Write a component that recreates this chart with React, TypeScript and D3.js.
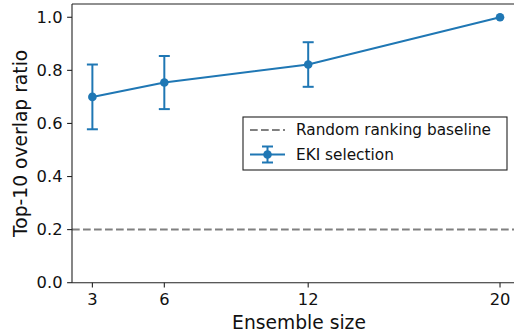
import React from "react";
import * as d3 from "d3";

const ensembleSizes = [3, 6, 12, 20];
const overlapMean = [0.70, 0.754, 0.822, 1.0];
const overlapErr = [0.122, 0.1, 0.084, 0.0];
const baselineValue = 0.2;
const xTicks = [3, 6, 12, 20];
const yTicks = [0, 0.2, 0.4, 0.6, 0.8, 1.0];

const W = 514;
const H = 332;
const left = 72;
const top = 4;
const bottom = 282.7;
const color = "#1f77b4";
const font = "'DejaVu Sans', sans-serif";

export default function App() {
  const x = d3.scaleLinear().domain([2.15, 20.85]).range([left, left + 448.4]);
  const y = d3.scaleLinear().domain([0, 1.05]).range([bottom, top]);
  const line = d3
    .line<number>()
    .x((_, i) => x(ensembleSizes[i]))
    .y((d) => y(d));
  const cap = 5.5;
  const lx = 243;
  const ly = 117;
  return (
    <svg
      width={W}
      height={H}
      style={{ position: "absolute", left: 0, top: 0, background: "#fff" }}
      fontFamily={font}
    >
      <rect x={0} y={0} width={W} height={H} fill="#fff" />
      {/* baseline */}
      <line
        x1={left}
        x2={W}
        y1={y(baselineValue)}
        y2={y(baselineValue)}
        stroke="#808080"
        strokeWidth={2}
        strokeDasharray="7.7,3.3"
      />
      {/* error bars */}
      {ensembleSizes.map((s, i) => {
        const cx = x(s);
        const y1 = y(overlapMean[i] + overlapErr[i]);
        const y2 = y(overlapMean[i] - overlapErr[i]);
        if (overlapErr[i] === 0) return null;
        return (
          <g key={"e" + i} stroke={color} strokeWidth={2}>
            <line x1={cx} x2={cx} y1={y1} y2={y2} />
            <line x1={cx - cap} x2={cx + cap} y1={y1} y2={y1} />
            <line x1={cx - cap} x2={cx + cap} y1={y2} y2={y2} />
          </g>
        );
      })}
      <path d={line(overlapMean) || ""} fill="none" stroke={color} strokeWidth={2} />
      {ensembleSizes.map((s, i) => (
        <circle key={"c" + i} cx={x(s)} cy={y(overlapMean[i])} r={4.3} fill={color} />
      ))}
      {/* spines */}
      <line x1={left} x2={W} y1={top} y2={top} stroke="#222" strokeWidth={1.1} />
      <line x1={left} x2={W} y1={bottom} y2={bottom} stroke="#222" strokeWidth={1.1} />
      <line x1={left} x2={left} y1={top} y2={bottom} stroke="#222" strokeWidth={1.1} />
      {/* y ticks */}
      {yTicks.map((t) => (
        <g key={"y" + t}>
          <line x1={left - 4.9} x2={left} y1={y(t)} y2={y(t)} stroke="#222" strokeWidth={1.1} />
          <text
            x={left - 9.5}
            y={y(t)}
            textAnchor="end"
            dominantBaseline="central"
            fontSize={16.3}
            fill="#111"
          >
            {t.toFixed(1)}
          </text>
        </g>
      ))}
      {/* x ticks */}
      {xTicks.map((t) => (
        <g key={"x" + t}>
          <line x1={x(t)} x2={x(t)} y1={bottom} y2={bottom + 4.9} stroke="#222" strokeWidth={1.1} />
          <text x={x(t)} y={305} textAnchor="middle" fontSize={16.3} fill="#111">
            {t}
          </text>
        </g>
      ))}
      <text x={(left + W + 6) / 2 + 3} y={328.5} textAnchor="middle" fontSize={18.7} fill="#111">
        Ensemble size
      </text>
      <text
        transform={`translate(20,${(top + bottom) / 2}) rotate(-90)`}
        textAnchor="middle"
        dominantBaseline="central"
        fontSize={18.7}
        fill="#111"
      >
        Top-10 overlap ratio
      </text>
      {/* legend */}
      <rect x={lx} y={ly} width={264} height={53} fill="#fff" stroke="#222" strokeWidth={1.1} />
      <line
        x1={lx + 7}
        x2={lx + 42}
        y1={ly + 13}
        y2={ly + 13}
        stroke="#808080"
        strokeWidth={2}
        strokeDasharray="7.7,3.3"
      />
      <text x={lx + 53} y={ly + 13} dominantBaseline="central" fontSize={15.3} fill="#111">
        Random ranking baseline
      </text>
      <g stroke={color} strokeWidth={2}>
        <line x1={lx + 7} x2={lx + 42} y1={ly + 37.5} y2={ly + 37.5} />
        <line x1={lx + 24.5} x2={lx + 24.5} y1={ly + 29.5} y2={ly + 45.5} />
        <line x1={lx + 19} x2={lx + 30} y1={ly + 29.5} y2={ly + 29.5} />
        <line x1={lx + 19} x2={lx + 30} y1={ly + 45.5} y2={ly + 45.5} />
      </g>
      <circle cx={lx + 24.5} cy={ly + 37.5} r={4.3} fill={color} />
      <text x={lx + 53} y={ly + 37.5} dominantBaseline="central" fontSize={15.3} fill="#111">
        EKI selection
      </text>
    </svg>
  );
}
